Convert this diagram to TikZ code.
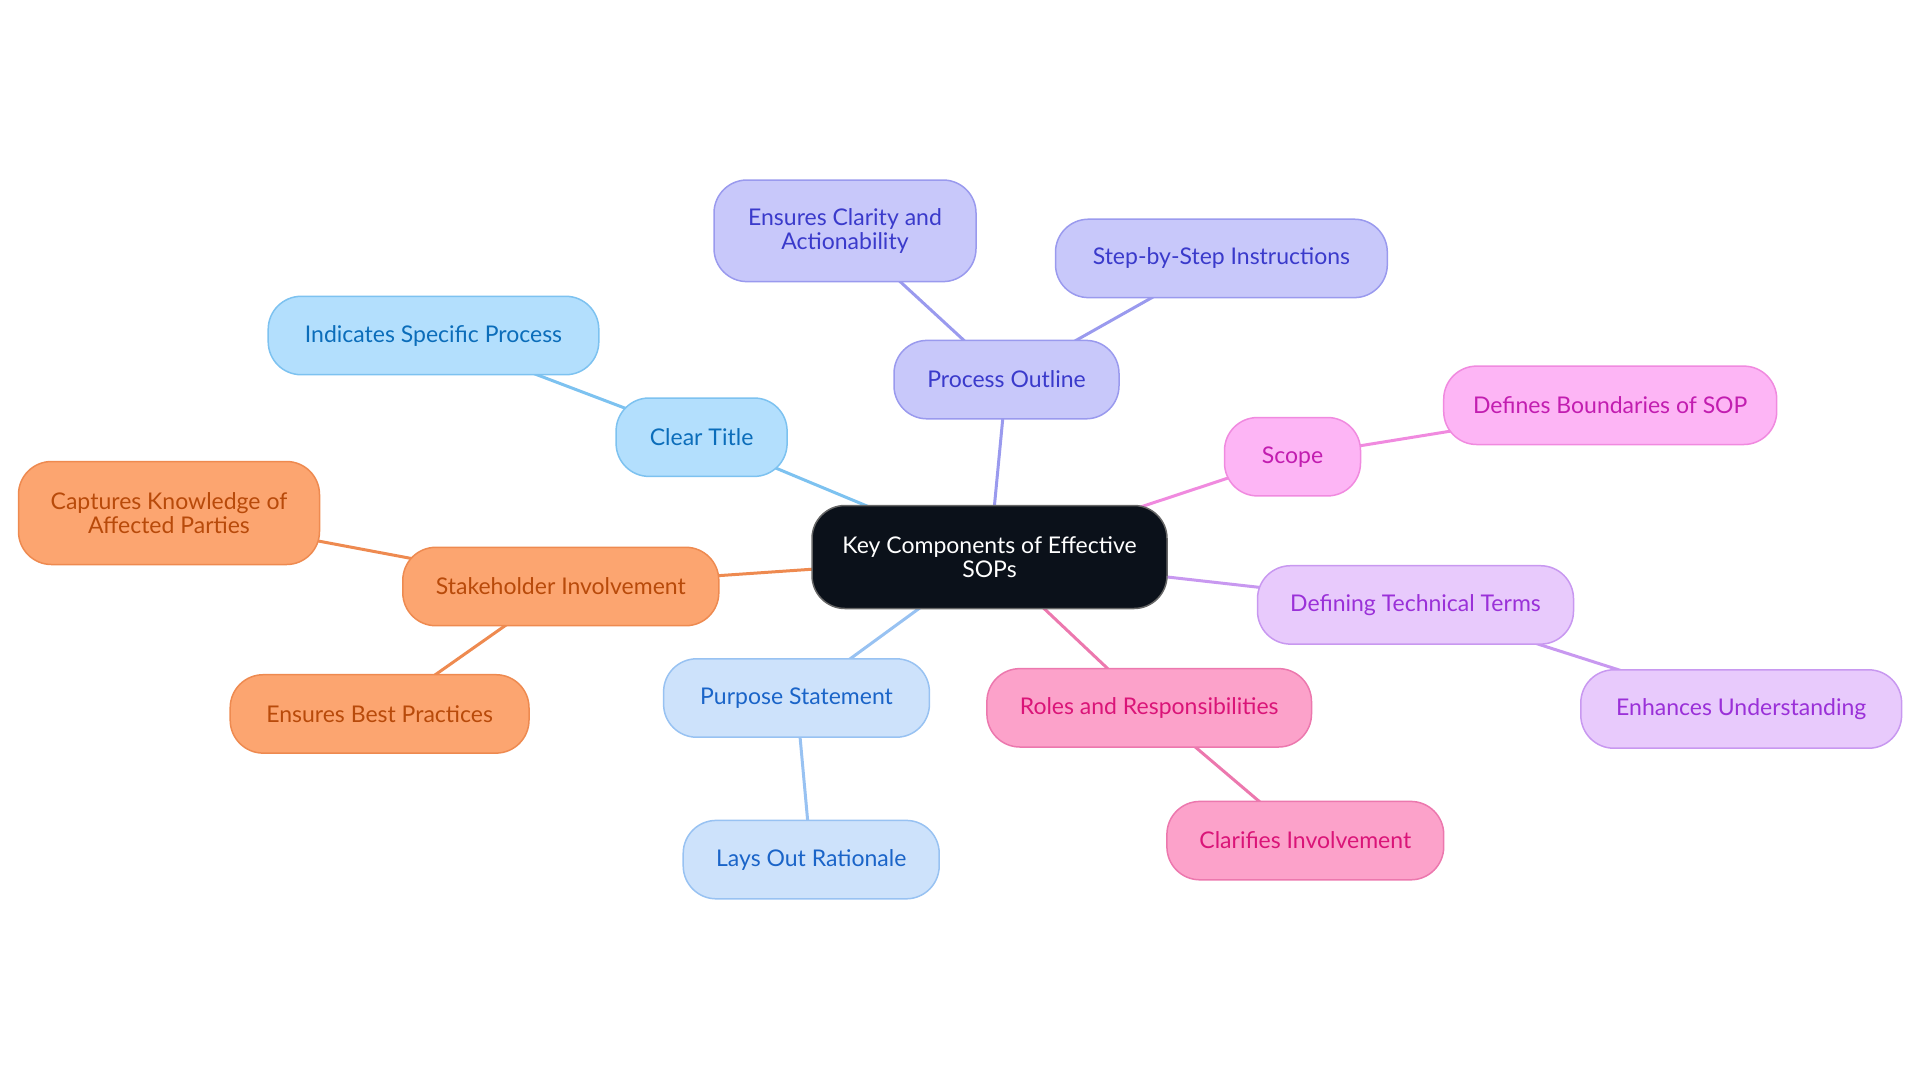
\documentclass[tikz,border=0pt]{standalone}
\usepackage{fontspec}
\setmainfont{Lato}
\usetikzlibrary{backgrounds}
\definecolor{bfill}{HTML}{B3DFFD}\definecolor{bdraw}{HTML}{7DC2F0}\definecolor{btext}{HTML}{0B6DBA}
\definecolor{pfill}{HTML}{C8C8FA}\definecolor{pdraw}{HTML}{9A9AEE}\definecolor{ptext}{HTML}{3A3ACB}
\definecolor{sfill}{HTML}{FDB5F5}\definecolor{sdraw}{HTML}{F08ADF}\definecolor{stext}{HTML}{C21DB0}
\definecolor{ofill}{HTML}{FCA570}\definecolor{odraw}{HTML}{EE8A50}\definecolor{otext}{HTML}{B84A0A}
\definecolor{lfill}{HTML}{E8CAFC}\definecolor{ldraw}{HTML}{C898F0}\definecolor{ltext}{HTML}{9A30D8}
\definecolor{rfill}{HTML}{FCA2CA}\definecolor{rdraw}{HTML}{EC78AE}\definecolor{rtext}{HTML}{DA1478}
\definecolor{ufill}{HTML}{CDE2FB}\definecolor{udraw}{HTML}{98C2F2}\definecolor{utext}{HTML}{1A64C8}
\definecolor{cfill}{HTML}{0B111A}
\tikzset{
  box/.style={rounded corners=16.5pt, line width=0.75pt, align=center, inner sep=0pt,
    font=\fontsize{11.5}{12.25}\selectfont, minimum height=39.2pt},
  bnode/.style={box, fill=bfill, draw=bdraw, text=btext},
  pnode/.style={box, fill=pfill, draw=pdraw, text=ptext},
  snode/.style={box, fill=sfill, draw=sdraw, text=stext},
  onode/.style={box, fill=ofill, draw=odraw, text=otext},
  lnode/.style={box, fill=lfill, draw=ldraw, text=ltext},
  rnode/.style={box, fill=rfill, draw=rdraw, text=rtext},
  unode/.style={box, fill=ufill, draw=udraw, text=utext},
  cnode/.style={box, fill=cfill, draw=black!60, text=white},
  edge/.style={line width=1.5pt},
}
\begin{document}
\begin{tikzpicture}[x=0.5pt,y=-0.5pt]
\path[use as bounding box] (0,0) rectangle (1920,1083);
\node[cnode, minimum width=177.5pt, minimum height=51.5pt] (c) at (989.5,557) {Key Components of Effective\\SOPs};
\node[bnode, minimum width=85.5pt] (ct) at (701.6,437.2) {Clear Title};
\node[bnode, minimum width=165.3pt] (isp) at (433.5,335.5) {Indicates Specific Process};
\node[pnode, minimum width=112.5pt] (po) at (1006.5,379.6) {Process Outline};
\node[pnode, minimum width=131pt, minimum height=50.8pt] (eca) at (845,230.8) {Ensures Clarity and\\Actionability};
\node[pnode, minimum width=165.9pt] (ssi) at (1221.4,258.4) {Step-by-Step Instructions};
\node[snode, minimum width=68pt] (sc) at (1292.5,456.7) {Scope};
\node[snode, minimum width=166.5pt] (dbs) at (1610.2,405.3) {Defines Boundaries of SOP};
\node[lnode, minimum width=158pt] (dtt) at (1415.5,604.9) {Defining Technical Terms};
\node[lnode, minimum width=160.4pt] (eu) at (1741.2,709) {Enhances Understanding};
\node[rnode, minimum width=162.3pt] (rr) at (1149.2,707.8) {Roles and Responsibilities};
\node[rnode, minimum width=138.4pt] (ci) at (1305.3,840.6) {Clarifies Involvement};
\node[unode, minimum width=132.9pt] (ps) at (796.5,698) {Purpose Statement};
\node[unode, minimum width=128pt] (lor) at (811.2,859.6) {Lays Out Rationale};
\node[onode, minimum width=158pt] (si) at (560.8,586.5) {Stakeholder Involvement};
\node[onode, minimum width=150.5pt, minimum height=51.5pt] (ck) at (169,513) {Captures Knowledge of\\Affected Parties};
\node[onode, minimum width=149.4pt] (ebp) at (379.6,713.9) {Ensures Best Practices};
\begin{pgfonlayer}{background}
\draw[edge, draw=bdraw] (c.center) -- (ct.center);
\draw[edge, draw=bdraw] (ct.center) -- (isp.center);
\draw[edge, draw=pdraw] (c.center) -- (po.center);
\draw[edge, draw=pdraw] (po.center) -- (eca.center);
\draw[edge, draw=pdraw] (po.center) -- (ssi.center);
\draw[edge, draw=sdraw] (c.center) -- (sc.center);
\draw[edge, draw=sdraw] (sc.center) -- (dbs.center);
\draw[edge, draw=ldraw] (c.center) -- (dtt.center);
\draw[edge, draw=ldraw] (dtt.center) -- (eu.center);
\draw[edge, draw=rdraw] (c.center) -- (rr.center);
\draw[edge, draw=rdraw] (rr.center) -- (ci.center);
\draw[edge, draw=udraw] (c.center) -- (ps.center);
\draw[edge, draw=udraw] (ps.center) -- (lor.center);
\draw[edge, draw=odraw] (c.center) -- (si.center);
\draw[edge, draw=odraw] (si.center) -- (ck.center);
\draw[edge, draw=odraw] (si.center) -- (ebp.center);
\end{pgfonlayer}
\end{tikzpicture}
\end{document}
